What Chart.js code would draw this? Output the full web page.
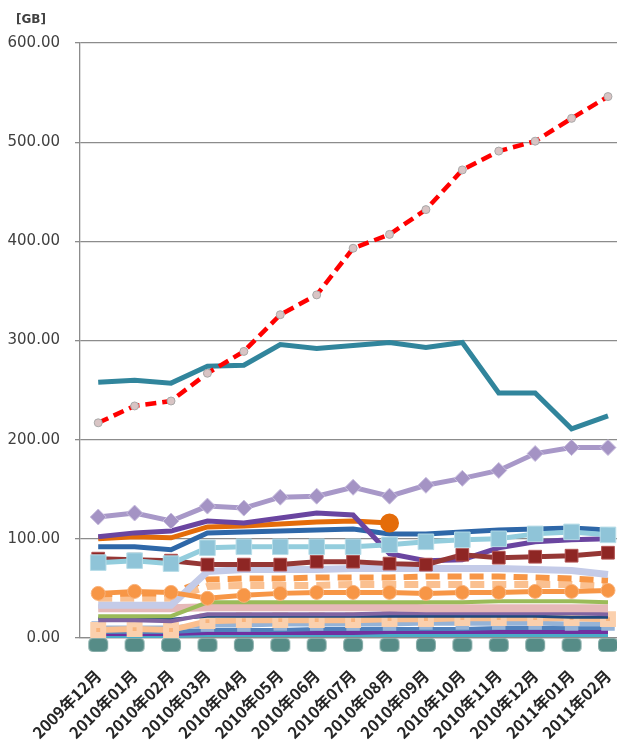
<!DOCTYPE html>
<html>
<head>
<meta charset="utf-8">
<script src="https://cdn.jsdelivr.net/npm/chart.js@4.4.1/dist/chart.umd.min.js"></script>
<style>
  html, body { margin: 0; padding: 0; background: #fff; overflow: hidden; }
  #wrap { position: relative; width: 642px; height: 740px; }
</style>
</head>
<body>
<div id="wrap"><canvas id="c"></canvas></div>
<script>
// Months on the x axis
const months = ['2009年12月', '2010年01月', '2010年02月', '2010年03月', '2010年04月',
  '2010年05月', '2010年06月', '2010年07月', '2010年08月', '2010年09月',
  '2010年10月', '2010年11月', '2010年12月', '2011年01月', '2011年02月'];

// Y axis ticks [GB]
const yTicks = [0, 100, 200, 300, 400, 500, 600];

// Series values [GB]
const redDashed   = [217, 234, 239, 267, 289, 326, 346, 393, 407, 432, 472, 491, 501, 524, 546];
const teal        = [258, 260, 257, 274, 275, 296, 292, 295, 298, 293, 298, 247, 247, 211, 224];
const lilac       = [122, 126, 118, 133, 131, 142, 143, 152, 143, 154, 161, 169, 186, 192, 192];
const greyTeal    = [0, 0, 0, 0, 0, 0, 0, 0, 0, 0, 0, 0, 0, 0, 0];
const skySquares  = [76, 78, 75, 91, 92, 92, 92, 92, 94, 97, 99, 100, 105, 107, 104];
const maroon      = [80, 79, 78, 74, 74, 74, 77, 77, 75, 74, 84, 81, 82, 83, 86];
const orangeDots  = [45, 47, 46, 40, 43, 45, 46, 46, 46, 45, 46, 46, 47, 47, 48];
const purple      = [102, 106, 108, 118, 116, 121, 126, 124, 85, 78, 79, 91, 97, 99, 100];
const darkOrange  = [100, 102, 101, 112, 113, 115, 117, 118, 116, null, null, null, null, null, null];
const steelBlue   = [92, 92, 89, 106, 107, 108, 109, 110, 105, 105, 107, 109, 110, 111, 109];
const lavender    = [33, 33, 33, 67, 69, 69, 69, 70, 70, 70, 70, 70, 69, 68, 64];
const orangeDash  = [44, 45, 45, 59, 60, 60, 61, 61, 61, 62, 62, 62, 61, 60, 58];
const peachDash   = [40, 40, 40, 52, 53, 53, 53, 54, 54, 54, 54, 54, 54, 54, 52];
const green       = [22, 22, 22, 36, 36, 36, 36, 36, 36, 36, 36, 37, 37, 37, 36];
const rose        = [30, 30, 30, 31, 31, 31, 31, 31, 31, 30, 30, 30, 30, 30, 30];
const violet      = [18, 18, 17, 24, 24, 24, 24, 24, 25, 25, 25, 25, 25, 25, 24];
const navy        = [20, 20, 19, 22, 22, 22, 22, 22, 22, 22, 22, 22, 22, 21, 21];
const salmon      = [8, 9, 8, 17, 18, 18, 18, 18, 19, 19, 20, 20, 20, 20, 19];
const paleBlue    = [10, 10, 10, 13, 13, 14, 14, 14, 14, 15, 15, 15, 15, 14, 14];
const blue        = [6, 6, 6, 8, 8, 8, 9, 9, 9, 9, 9, 10, 10, 10, 10];
const plum        = [4, 4, 4, 5, 5, 5, 5, 5, 6, 6, 6, 6, 6, 6, 6];
const cyan        = [2, 2, 2, 3, 3, 3, 3, 3, 3, 3, 3, 3, 3, 3, 3];

// wide rounded marker that hangs just under its point (as in the original)
function hangingMarker() {
  const m = document.createElement('canvas');
  m.width = 22; m.height = 30;
  const g = m.getContext('2d');
  g.fillStyle = '#568c87';
  g.strokeStyle = '#86aca8';
  g.lineWidth = 1;
  g.beginPath();
  g.roundRect(1.5, 15.5, 19, 13, 4);
  g.fill();
  g.stroke();
  return m;
}

function line(data, color, opts) {
  return Object.assign({
    data: data,
    borderColor: color,
    backgroundColor: color,
    borderWidth: 4,
    pointRadius: 0,
    tension: 0,
    fill: false,
    spanGaps: false,
    clip: false
  }, opts || {});
}

// dataset 0 is drawn on top
const datasets = [
  line(redDashed, '#ff0000', { borderWidth: 4.5, borderDash: [11, 6], pointRadius: 4, pointBackgroundColor: '#d8c4c4', pointBorderColor: '#a8a8a8', pointBorderWidth: 1 }),
  line(teal, '#31859c', { borderWidth: 5 }),
  line(lilac, '#a898c8', { borderWidth: 5, pointStyle: 'rectRot', pointRadius: 8, pointBackgroundColor: '#a493c4', pointBorderColor: '#c8bede', pointBorderWidth: 1 }),
  line(greyTeal, 'rgba(0,0,0,0)', { borderWidth: 0, pointStyle: hangingMarker(), pointRadius: 10 }),
  line(skySquares, '#93cddd', { borderWidth: 5, pointStyle: 'rect', pointRadius: 11, pointBackgroundColor: '#8fc4d8', pointBorderColor: '#b7dde8', pointBorderWidth: 1 }),
  line(maroon, '#953735', { borderWidth: 5, pointStyle: 'rect', pointRadius: 9, pointBackgroundColor: '#8e2624', pointBorderColor: '#b05050', pointBorderWidth: 1 }),
  line(orangeDots, '#f79646', { borderWidth: 5, pointRadius: 7, pointBackgroundColor: '#f79646', pointBorderColor: '#f9b27a', pointBorderWidth: 1 }),
  line(purple, '#6a45a0', { borderWidth: 5 }),
  line(darkOrange, '#e46c0a', { borderWidth: 5, pointRadius: function (c) { return c.dataIndex === 8 ? 7 : 0; } }),
  line(steelBlue, '#2e67a8', { borderWidth: 5 }),
  line(lavender, '#c4cbe8', { borderWidth: 7 }),
  line(orangeDash, '#f79646', { borderWidth: 6, borderDash: [14, 8] }),
  line(peachDash, '#fac090', { borderWidth: 7, borderDash: [14, 8] }),
  line(green, '#9bbb59', { borderWidth: 4 }),
  line(rose, '#e6b9b8', { borderWidth: 8 }),
  line(violet, '#8064a2', { borderWidth: 4 }),
  line(navy, '#1f497d', { borderWidth: 3 }),
  line(salmon, '#fabf8f', { borderWidth: 6, pointStyle: 'rect', pointRadius: 7, pointBackgroundColor: '#f9b47c', pointBorderColor: '#fbd0ad' }),
  line(paleBlue, '#95b3d7', { borderWidth: 5, pointStyle: 'rect', pointRadius: 6 }),
  line(blue, '#4f81bd', { borderWidth: 4 }),
  line(plum, '#7030a0', { borderWidth: 4 }),
  line(cyan, '#4bacc6', { borderWidth: 4 })
];

// "[GB]" unit mark above the value axis
const unitLabel = {
  id: 'unitLabel',
  afterDraw(chart) {
    const ctx = chart.ctx;
    ctx.save();
    ctx.font = 'bold 12px "DejaVu Sans", sans-serif';
    ctx.fillStyle = '#404040';
    ctx.textAlign = 'center';
    ctx.textBaseline = 'middle';
    ctx.fillText('[GB]', 31, 20);
    ctx.restore();
  }
};

new Chart(document.getElementById('c'), {
  type: 'line',
  data: { labels: months, datasets: datasets },
  plugins: [unitLabel],
  options: {
    responsive: true,
    maintainAspectRatio: false,
    animation: false,
    layout: { padding: { left: 6, top: 43, right: 3, bottom: 0 } },
    plugins: { legend: { display: false }, tooltip: { enabled: false } },
    scales: {
      x: {
        offset: true,
        grid: { display: false },
        border: { display: true, color: '#8c8c8c', width: 1.3 },
        ticks: {
          autoSkip: false,
          maxRotation: 45,
          minRotation: 45,
          padding: 20,
          color: '#262626',
          font: { family: '"Noto Sans CJK JP", sans-serif', size: 16, weight: 'bold' }
        },
        afterFit: function (s) { s.height = 102; }
      },
      y: {
        min: yTicks[0],
        max: yTicks[yTicks.length - 1],
        afterBuildTicks: function (s) { s.ticks = yTicks.map(function (v) { return { value: v }; }); },
        grid: { color: '#8c8c8c', lineWidth: 1.3, tickLength: 5, drawTicks: true },
        border: { display: true, color: '#8c8c8c', width: 1.3 },
        ticks: {
          padding: 15,
          color: '#404040',
          font: { family: '"DejaVu Sans", sans-serif', size: 15 },
          callback: function (v) { return Number(v).toFixed(2); }
        },
        afterFit: function (s) { s.width = 74; }
      }
    }
  }
});
</script>
</body>
</html>
